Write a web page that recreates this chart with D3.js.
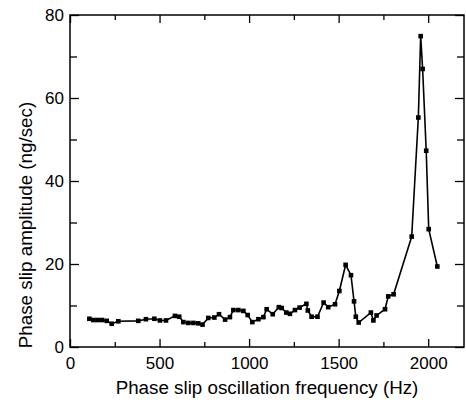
<!DOCTYPE html>
<html>
<head>
<meta charset="utf-8">
<script src="https://cdn.jsdelivr.net/npm/d3@7"></script>
<style>
  body { margin: 0; background: #fff; }
  text { font-family: "Liberation Sans", Arial, sans-serif; fill: #000; }
</style>
</head>
<body>
<div id="chart"></div>
<script>
const freq = [108, 130, 154, 179, 205, 233, 270, 381, 424, 471, 502, 536,
  586, 610, 633, 661, 689, 716, 740, 772, 806, 832, 866, 893, 912, 940, 968,
  992, 1018, 1052, 1080, 1098, 1132, 1166, 1182, 1208, 1228, 1256, 1282, 1320,
  1328, 1349, 1382, 1416, 1442, 1480, 1504, 1539, 1569, 1586, 1596, 1612,
  1680, 1694, 1712, 1759, 1777, 1807, 1908, 1945, 1958, 1969, 1989, 2003, 2051];
const amplitude = [6.8, 6.5, 6.5, 6.5, 6.3, 5.6, 6.2, 6.3, 6.7, 6.8, 6.4, 6.4,
  7.5, 7.3, 6.0, 5.8, 5.8, 5.7, 5.4, 7.0, 7.1, 7.9, 6.6, 7.2, 8.9, 8.9, 8.7,
  7.7, 6.0, 6.7, 7.2, 9.1, 7.9, 9.6, 9.4, 8.3, 8.0, 8.9, 9.5, 10.4,
  8.8, 7.3, 7.3, 10.7, 9.6, 10.3, 13.5, 19.8, 17.3, 11.0, 7.3, 5.9,
  8.3, 6.4, 7.6, 9.1, 12.2, 12.7, 26.6, 55.3, 74.9, 67.0, 47.3, 28.4, 19.4];
const xTicks = [0, 500, 1000, 1500, 2000];
const xMinor = [250, 750, 1250, 1750];
const yTicks = [0, 20, 40, 60, 80];
const yMinor = [10, 30, 50, 70];

const data = freq.map((f, i) => ({ x: f, y: amplitude[i] }));

const width = 466, height = 407;
const margin = { top: 15, right: 2, bottom: 60, left: 70 };
const w = width - margin.left - margin.right;
const h = height - margin.top - margin.bottom;

const svg = d3.select('#chart')
  .append('svg')
  .attr('width', width)
  .attr('height', height);

const g = svg.append('g')
  .attr('transform', `translate(${margin.left}, ${margin.top})`);

const x = d3.scaleLinear().domain([0, 2200]).range([0, w]);
const y = d3.scaleLinear().domain([0, 80]).range([h, 0]);

// ticks point inward on all four sides
const addAxis = (axis, transform, size, labels) => {
  const a = g.append('g')
    .attr('transform', transform)
    .call(axis.tickSize(size).tickPadding(labels ? 7 : 0));
  a.select('.domain').remove();
  a.selectAll('line').attr('stroke', '#000').attr('stroke-width', 1.3);
  a.selectAll('text')
    .attr('font-size', 17)
    .attr('font-family', '"Liberation Sans", Arial, sans-serif')
    .text(labels ? (d => d) : '');
  return a;
};

const bottom = addAxis(d3.axisBottom(x).tickValues(xTicks), `translate(0, ${h})`, -8, true);
bottom.selectAll('text').attr('dy', '0.85em').attr('y', 8);
addAxis(d3.axisBottom(x).tickValues(xMinor), `translate(0, ${h})`, -5, false);
addAxis(d3.axisTop(x).tickValues(xTicks), 'translate(0, 0)', -8, false);
addAxis(d3.axisTop(x).tickValues(xMinor), 'translate(0, 0)', -5, false);

const left = addAxis(d3.axisLeft(y).tickValues(yTicks), 'translate(0, 0)', -9, true);
left.selectAll('text').attr('x', -6).attr('dy', '0.35em');
addAxis(d3.axisLeft(y).tickValues(yMinor), 'translate(0, 0)', -7, false);
addAxis(d3.axisRight(y).tickValues(yTicks), `translate(${w}, 0)`, -9, false);
addAxis(d3.axisRight(y).tickValues(yMinor), `translate(${w}, 0)`, -7, false);

g.append('rect')
  .attr('width', w)
  .attr('height', h)
  .attr('fill', 'none')
  .attr('stroke', '#000')
  .attr('stroke-width', 1.5);

const line = d3.line()
  .x(d => x(d.x))
  .y(d => y(d.y));

g.append('path')
  .datum(data)
  .attr('fill', 'none')
  .attr('stroke', '#000')
  .attr('stroke-width', 1.6)
  .attr('d', line);

g.selectAll('rect.pt')
  .data(data)
  .join('rect')
  .attr('class', 'pt')
  .attr('x', d => x(d.x) - 2.3)
  .attr('y', d => y(d.y) - 2.3)
  .attr('width', 4.6)
  .attr('height', 4.6)
  .attr('fill', '#000');

svg.append('text')
  .attr('x', margin.left + w / 2)
  .attr('y', 394)
  .attr('text-anchor', 'middle')
  .attr('font-size', 18.8)
  .text('Phase slip oscillation frequency (Hz)');

svg.append('text')
  .attr('transform', 'translate(32, 225) rotate(-90)')
  .attr('text-anchor', 'middle')
  .attr('font-size', 18.8)
  .text('Phase slip amplitude (ng/sec)');
</script>
</body>
</html>
